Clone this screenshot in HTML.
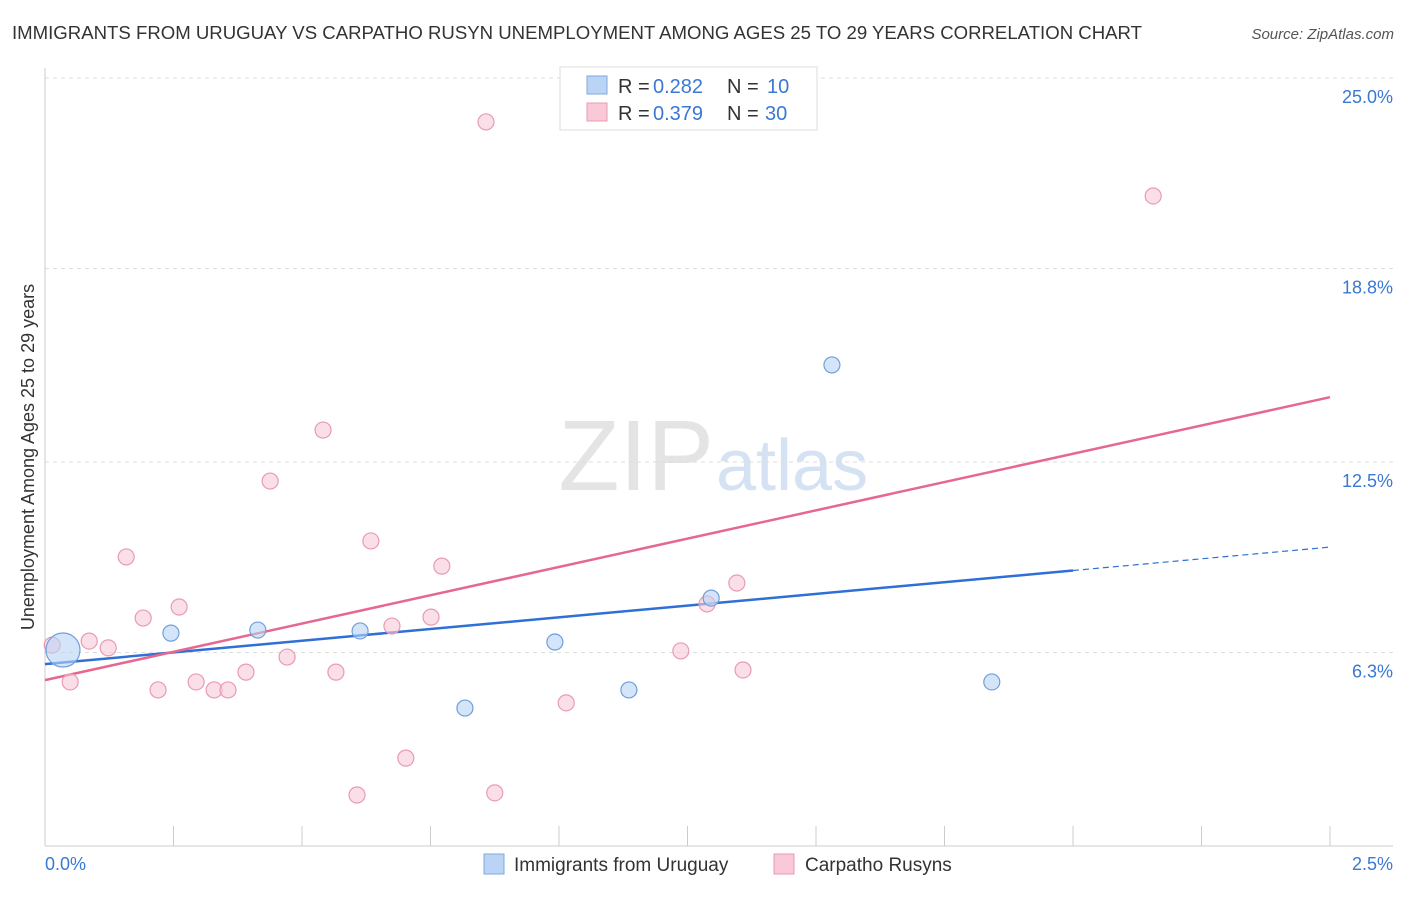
<!DOCTYPE html>
<html><head><meta charset="utf-8">
<style>
body{margin:0;background:#fff;font-family:"Liberation Sans",sans-serif;}
svg text{font-family:"Liberation Sans",sans-serif;}
</style></head>
<body>
<svg id="chart" width="1406" height="892" xmlns="http://www.w3.org/2000/svg">
<text x="12" y="39" font-size="18" fill="#333" textLength="1130" lengthAdjust="spacingAndGlyphs">IMMIGRANTS FROM URUGUAY VS CARPATHO RUSYN UNEMPLOYMENT AMONG AGES 25 TO 29 YEARS CORRELATION CHART</text>
<text x="1394" y="39" font-size="15" fill="#555" font-style="italic" text-anchor="end">Source: ZipAtlas.com</text>
<text x="714" y="490" font-size="100" fill="#e4e4e4" text-anchor="end" font-family="Liberation Serif">ZIP</text>
<text x="716" y="490" font-size="72" fill="#d4e2f4">atlas</text>
<g id="grid"></g>
<g id="axes"></g>
<g id="lines"></g>
<g id="points"></g>
<text transform="translate(34,457) rotate(-90)" font-size="18" fill="#333" text-anchor="middle">Unemployment Among Ages 25 to 29 years</text>
<g>
<rect x="560" y="67" width="257" height="63" fill="#fff" stroke="#ddd"/>
<rect x="587" y="76" width="20" height="18" fill="#b9d4f5" stroke="#7fa8dd"/>
<text x="618" y="93" font-size="20" fill="#333">R =</text>
<text x="653" y="93" font-size="20" fill="#3a78d4">0.282</text>
<text x="727" y="93" font-size="20" fill="#333">N =</text>
<text x="767" y="93" font-size="20" fill="#3a78d4">10</text>
<rect x="587" y="103" width="20" height="18" fill="#f9c9d8" stroke="#e99ab4"/>
<text x="618" y="120" font-size="20" fill="#333">R =</text>
<text x="653" y="120" font-size="20" fill="#3a78d4">0.379</text>
<text x="727" y="120" font-size="20" fill="#333">N =</text>
<text x="765" y="120" font-size="20" fill="#3a78d4">30</text>
</g>
<g>
<rect x="484" y="854" width="20" height="20" fill="#b9d4f5" stroke="#7fa8dd"/>
<text x="514" y="871" font-size="19" fill="#333">Immigrants from Uruguay</text>
</g>
<g>
<rect x="774" y="854" width="20" height="20" fill="#f9c9d8" stroke="#e99ab4"/>
<text x="805" y="871" font-size="19" fill="#333">Carpatho Rusyns</text>
</g>
</svg>
<script>
const yTicks=[6.3,12.5,18.8,25.0];
const yTickLabels=["6.3%","12.5%","18.8%","25.0%"];
const xTickLabels=["0.0%","2.5%"];
const blueX=[0.035,0.245,0.414,0.613,0.817,0.992,1.136,1.296,1.531,1.842];
const blueY=[6.38,6.93,7.03,7.00,4.49,6.64,5.08,8.07,15.66,5.34];
const pinkX=[0.014,0.049,0.086,0.123,0.158,0.191,0.220,0.261,0.294,0.329,0.356,0.391,0.438,0.471,0.541,0.566,0.607,0.634,0.675,0.702,0.751,0.772,0.858,0.875,1.014,1.237,1.288,1.346,1.358,2.156];
const pinkY=[6.54,5.34,6.67,6.45,9.41,7.42,5.08,7.78,5.34,5.08,5.08,5.66,11.88,6.15,13.54,5.66,1.66,9.93,7.16,2.86,7.45,9.11,23.57,1.73,4.66,6.35,7.88,8.56,5.73,21.16];
const blueTrend=[5.92,9.73];
const pinkTrend=[5.40,14.61];
const blueSolidEnd=2.0;
const NS="http://www.w3.org/2000/svg";
const X=v=>45+v/2.5*1285;
const Y=v=>846-v/6.25*192;
function mk(t,a,p){const e=document.createElementNS(NS,t);for(const k in a)e.setAttribute(k,a[k]);p.appendChild(e);return e;}
const grid=document.getElementById('grid'),axes=document.getElementById('axes'),lines=document.getElementById('lines'),pts=document.getElementById('points');
yTicks.forEach((t,i)=>{
 const l=mk('line',{x1:45,x2:1393,y1:Y(t),y2:Y(t),stroke:'#ddd','stroke-dasharray':'4,4'},grid);
 
 
 const tx=mk('text',{x:1393,y:Y(t)+25,'font-size':18,fill:'#3a78d4','text-anchor':'end'},axes);
 tx.textContent=yTickLabels[i];
 
 
});
const ax=mk('line',{x1:45,x2:45,y1:68,y2:846,stroke:'#ccc'},axes);


const bx=mk('line',{x1:45,x2:1393,y1:846,y2:846,stroke:'#ccc'},axes);


for(let i=1;i<=10;i++){const v=i*0.25;const t=mk('line',{x1:X(v),x2:X(v),y1:826,y2:846,stroke:'#ccc'},axes);
 
 }
[[0,'start',45],[2.5,'end',1393]].forEach((d,i)=>{const t=mk('text',{x:d[2],y:870,'font-size':18,fill:'#3a78d4','text-anchor':d[1]},axes);t.textContent=xTickLabels[i];
 
 });
const by=x=>blueTrend[0]+(blueTrend[1]-blueTrend[0])*x/2.5;
const py=x=>pinkTrend[0]+(pinkTrend[1]-pinkTrend[0])*x/2.5;
function pt(x,y,r,fill,stroke,name){const c=mk('circle',{cx:X(x),cy:Y(y),r:r,fill:fill,stroke:stroke,'stroke-width':1.2,'fill-opacity':0.6},pts);
 
 }
pinkX.forEach((x,i)=>pt(x,pinkY[i],8,'#f9c9d8','#e99ab4','carpatho-point'));
blueX.forEach((x,i)=>pt(x,blueY[i],i===0?17:8,'#b9d4f5','#6f9fdc','uruguay-point'));
const l1=mk('line',{x1:X(0),y1:Y(by(0)),x2:X(blueSolidEnd),y2:Y(by(blueSolidEnd)),stroke:'#2f6fd6','stroke-width':2.5},lines);


const l2=mk('line',{x1:X(blueSolidEnd),y1:Y(by(blueSolidEnd)),x2:X(2.5),y2:Y(by(2.5)),stroke:'#2f6fd6','stroke-width':1.2,'stroke-dasharray':'6,4'},lines);


const l3=mk('line',{x1:X(0),y1:Y(py(0)),x2:X(2.5),y2:Y(py(2.5)),stroke:'#e6678f','stroke-width':2.5},lines);


</script>
</body></html>
